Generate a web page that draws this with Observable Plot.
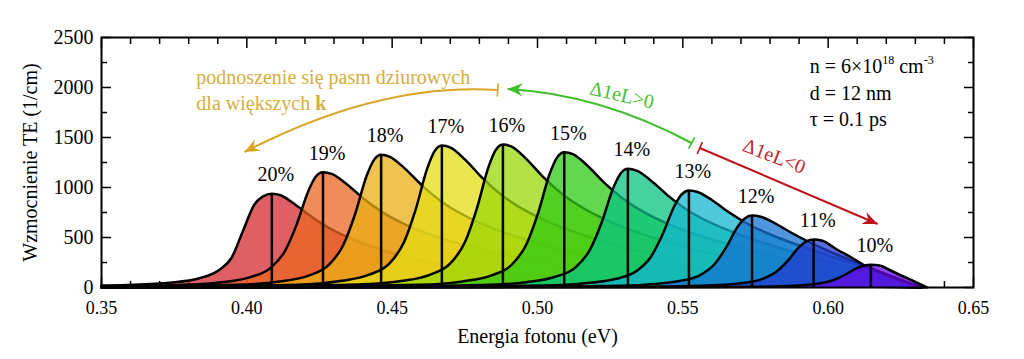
<!DOCTYPE html>
<html>
<head>
<meta charset="utf-8">
<script src="https://cdn.jsdelivr.net/npm/d3@7"></script>
<script src="https://cdn.jsdelivr.net/npm/@observablehq/plot@0.6"></script>
<style>
  html, body { margin: 0; padding: 0; background: #fff; }
  svg { display: block; }
</style>
</head>
<body>
<div id="chart"></div>
<script>
// ---- data: gain spectra [photon energy (eV), TE gain (1/cm)] ----
const g20 = [[0.35,20],[0.3586,26],[0.3736,48],[0.3836,92],[0.3906,178],[0.3946,290],[0.3986,560],[0.4026,830],[0.4056,912],[0.4086,937],[0.4116,922],[0.4166,830],[0.4226,700],[0.4286,590],[0.4366,480],[0.4466,375],[0.4586,280],[0.4736,200],[0.4886,145],[0.5086,100],[0.5386,60],[0.5686,33],[0.5986,14],[0.632,0]];
const g19 = [[0.35,12],[0.3762,24],[0.3912,52],[0.4012,104],[0.4082,196],[0.4132,369],[0.4172,634],[0.4212,968],[0.4237,1107],[0.4262,1153],[0.4292,1136],[0.4342,1038],[0.4402,888],[0.4462,761],[0.4542,634],[0.4642,519],[0.4762,415],[0.4912,311],[0.5062,231],[0.5262,150],[0.5562,81],[0.5862,40],[0.6162,12],[0.632,0]];
const g18 = [[0.35,9],[0.3962,27],[0.4112,60],[0.4212,119],[0.4282,226],[0.4332,425],[0.4372,730],[0.4412,1115],[0.4437,1274],[0.4462,1327],[0.4492,1307],[0.4542,1194],[0.4602,1022],[0.4662,876],[0.4742,730],[0.4842,597],[0.4962,478],[0.5112,358],[0.5262,265],[0.5462,173],[0.5762,93],[0.6062,42],[0.632,0]];
const g17 = [[0.35,7],[0.4171,28],[0.4321,64],[0.4421,128],[0.4491,241],[0.4541,454],[0.4581,781],[0.4621,1193],[0.4646,1363],[0.4671,1420],[0.4701,1399],[0.4751,1278],[0.4811,1093],[0.4871,937],[0.4951,781],[0.5051,639],[0.5171,511],[0.5321,383],[0.5471,284],[0.5671,185],[0.5971,92],[0.618,38],[0.632,0]];
const g16 = [[0.35,5],[0.3881,11],[0.4381,29],[0.4531,64],[0.4631,129],[0.4701,243],[0.4751,458],[0.4791,787],[0.4831,1201],[0.4856,1373],[0.4881,1430],[0.4911,1409],[0.4961,1287],[0.5021,1101],[0.5081,944],[0.5161,787],[0.5261,644],[0.5381,515],[0.5531,386],[0.5681,286],[0.5881,186],[0.61,95],[0.632,0]];
const g15 = [[0.35,4],[0.4092,9],[0.4592,27],[0.4742,61],[0.4842,122],[0.4912,230],[0.4962,433],[0.5002,744],[0.5042,1137],[0.5067,1299],[0.5092,1353],[0.5122,1333],[0.5172,1218],[0.5232,1042],[0.5292,893],[0.5372,744],[0.5472,609],[0.5592,487],[0.5742,365],[0.5892,260],[0.6092,140],[0.632,0]];
const g14 = [[0.35,3],[0.4311,7],[0.4811,24],[0.4961,53],[0.5061,107],[0.5131,202],[0.5181,380],[0.5221,653],[0.5261,997],[0.5286,1140],[0.5311,1187],[0.5341,1169],[0.5391,1068],[0.5451,914],[0.5511,783],[0.5591,653],[0.5691,534],[0.5811,415],[0.5961,290],[0.6111,170],[0.632,0]];
const g13 = [[0.35,2],[0.4521,6],[0.5021,19],[0.5171,44],[0.5271,87],[0.5341,165],[0.5391,310],[0.5431,534],[0.5471,815],[0.5496,931],[0.5521,970],[0.5551,955],[0.5601,873],[0.5661,747],[0.5721,640],[0.5801,530],[0.5901,420],[0.6021,300],[0.6171,160],[0.632,0]];
const g12 = [[0.35,2],[0.4738,5],[0.5238,14],[0.5388,32],[0.5488,65],[0.5558,122],[0.5608,230],[0.5648,396],[0.5688,605],[0.5713,691],[0.5738,720],[0.5768,708],[0.5818,640],[0.5878,540],[0.5938,450],[0.6018,345],[0.6118,225],[0.6218,110],[0.632,0]];
const g11 = [[0.35,1],[0.495,4],[0.545,10],[0.56,22],[0.57,43],[0.577,82],[0.582,154],[0.586,264],[0.590,403],[0.5925,461],[0.595,480],[0.598,468],[0.603,380],[0.608,300],[0.612,230],[0.618,150],[0.624,80],[0.6305,20],[0.633,0]];
const g10 = [[0.35,0.5],[0.5147,2],[0.5647,5],[0.5797,10],[0.5897,20],[0.5967,39],[0.6017,73],[0.6057,125],[0.6097,191],[0.6122,218],[0.6147,227],[0.6177,220],[0.6215,170],[0.6255,115],[0.6293,65],[0.634,0]];

const seriesLabels = ["20%","19%","18%","17%","16%","15%","14%","13%","12%","11%","10%"];
const seriesData = [g20,g19,g18,g17,g16,g15,g14,g13,g12,g11,g10];

// tick values
const xMajor = [0.35,0.40,0.45,0.50,0.55,0.60,0.65];
const xMinor = [0.36,0.37,0.38,0.39,0.41,0.42,0.43,0.44,0.46,0.47,0.48,0.49,0.51,0.52,0.53,0.54,0.56,0.57,0.58,0.59,0.61,0.62,0.63,0.64];
const yMajor = [0,500,1000,1500,2000,2500];
const yMinor = [250,750,1250,1750,2250];

// styles
const palette = ["#D32A30","#EB6623","#EBAF16","#E4DE16","#9BD708","#30CA16","#08C380","#16B6D0","#1673D0","#233ED0","#6608E4"];
const FONT = "'Liberation Serif', 'Times New Roman', serif";

const series = seriesLabels.map((label, i) => ({label, points: seriesData[i].map(([x, y]) => ({x, y}))}));
const peaks = series.map(s => {
  const p = s.points.reduce((a, b) => (b.y > a.y ? b : a));
  return {x: p.x, y: p.y, label: s.label};
});

const marks = [];
// inward ticks (under the fills)
const tickOpts = {stroke: "black", strokeWidth: 1.5, fill: "none", label: null};
marks.push(
  Plot.axisX(xMajor, {...tickOpts, anchor: "bottom", tickSize: -10}),
  Plot.axisX(xMinor, {...tickOpts, anchor: "bottom", tickSize: -6}),
  Plot.axisX(xMajor, {...tickOpts, anchor: "top", tickSize: -10}),
  Plot.axisX(xMinor, {...tickOpts, anchor: "top", tickSize: -6}),
  Plot.axisY(yMajor, {...tickOpts, anchor: "left", tickSize: -10}),
  Plot.axisY(yMinor, {...tickOpts, anchor: "left", tickSize: -6}),
  Plot.axisY(yMajor, {...tickOpts, anchor: "right", tickSize: -10}),
  Plot.axisY(yMinor, {...tickOpts, anchor: "right", tickSize: -6})
);
series.forEach((s, i) => {
  marks.push(Plot.areaY(s.points, {x: "x", y: "y", fill: palette[i], fillOpacity: 0.75, curve: "monotone-x"}));
  marks.push(Plot.lineY(s.points, {x: "x", y: "y", stroke: "black", strokeWidth: 2.5, curve: "monotone-x"}));
});
marks.push(
  Plot.ruleX(peaks, {x: "x", y1: 0, y2: "y", stroke: "black", strokeWidth: 2.5}),
  Plot.text(peaks, {x: "x", y: "y", text: "label", dx: 4, dy: -19, fontSize: 20, fill: "black"}),
  Plot.frame({stroke: "black", strokeWidth: 2}),
  Plot.axisX(xMajor, {anchor: "bottom", tickSize: 0, tickPadding: 14, tickFormat: d3.format(".2f"), fontSize: 18, label: null, fill: "black"}),
  Plot.axisY(yMajor, {anchor: "left", tickSize: 0, tickPadding: 8, tickFormat: d3.format("d"), fontSize: 20, label: null, fill: "black"}),
  Plot.text(["Energia fotonu (eV)"], {text: d => d, frameAnchor: "bottom", dy: 55, fontSize: 20, fill: "black"}),
  Plot.text(["Wzmocnienie TE (1/cm)"], {text: d => d, frameAnchor: "left", textAnchor: "middle", dx: -71, rotate: -90, fontSize: 20, fill: "black"})
);

const chart = Plot.plot({
  width: 1024,
  height: 359,
  marginLeft: 101,
  marginRight: 51,
  marginTop: 37,
  marginBottom: 72,
  x: {domain: [0.35, 0.65]},
  y: {domain: [0, 2500]},
  style: {fontFamily: FONT, fontSize: "18px", background: "white", color: "black"},
  marks
});
document.getElementById("chart").appendChild(chart);

// ---- annotations (placed through the plot's scales) ----
const sx = chart.scale("x"), sy = chart.scale("y");
const X = v => sx.apply(v), Y = v => sy.apply(v);
const svg = d3.select(chart);
const defs = svg.append("defs");
function markers(id, color) {
  defs.append("marker").attr("id", id + "-head").attr("viewBox", "-15 -8 16 16")
    .attr("refX", 0).attr("refY", 0).attr("markerWidth", 16).attr("markerHeight", 16)
    .attr("markerUnits", "userSpaceOnUse").attr("orient", "auto")
    .append("path").attr("d", "M0,0L-15,-6.5L-10,0L-15,6.5Z").attr("fill", color);
  defs.append("marker").attr("id", id + "-bar").attr("viewBox", "-3 -8 6 16")
    .attr("refX", 0).attr("refY", 0).attr("markerWidth", 6).attr("markerHeight", 16)
    .attr("markerUnits", "userSpaceOnUse").attr("orient", "auto")
    .append("path").attr("d", "M0,-6.5V6.5").attr("stroke", color).attr("stroke-width", 1.6);
}
const cYellow = "#D9A526", cGreen = "#3DBE2A", cRed = "#BE1419";
markers("y", cYellow); markers("g", cGreen); markers("r", cRed);

function arrow(id, color, p0, c, p1) {
  const d = c
    ? `M${X(p0[0])},${Y(p0[1])}Q${X(c[0])},${Y(c[1])} ${X(p1[0])},${Y(p1[1])}`
    : `M${X(p0[0])},${Y(p0[1])}L${X(p1[0])},${Y(p1[1])}`;
  svg.append("path").attr("d", d).attr("fill", "none").attr("stroke", color).attr("stroke-width", 2)
    .attr("marker-start", `url(#${id}-bar)`).attr("marker-end", `url(#${id}-head)`);
}
arrow("y", cYellow, [0.4865, 1970], [0.4459, 2050], [0.3994, 1350]);
arrow("g", cGreen, [0.5532, 1440], [0.5216, 1930], [0.4899, 1980]);
arrow("r", cRed, [0.556, 1390], null, [0.6172, 630]);

const txt = (x, y, color) => svg.append("text").attr("x", X(x)).attr("y", Y(y))
  .attr("text-anchor", "start")
  .attr("fill", color).attr("font-family", FONT).attr("font-size", 20);

txt(0.3828, 2030, "#D6AE3C").text("podnoszenie się pasm dziurowych");
const l2 = txt(0.3828, 1770, "#D6AE3C");
l2.append("tspan").text("dla większych ");
l2.append("tspan").attr("font-weight", "bold").text("k");

function rotated(x, y, angle, color, s) {
  svg.append("text").attr("transform", `translate(${X(x)},${Y(y)}) rotate(${angle})`)
    .attr("text-anchor", "middle").attr("dominant-baseline", "middle")
    .attr("fill", color).attr("font-family", FONT).attr("font-size", 20).text(s);
}
rotated(0.5291, 1900, 13, "#45C232", "Δ1eL>0");
rotated(0.5814, 1290, 21, "#C0282A", "Δ1eL<0");

const n = txt(0.5938, 2140, "black");
n.append("tspan").text("n = 6×10");
n.append("tspan").attr("dy", -9).attr("font-size", 12).text("18");
n.append("tspan").attr("dy", 9).text(" cm");
n.append("tspan").attr("dy", -9).attr("font-size", 12).text("-3");
txt(0.5938, 1870, "black").text("d = 12 nm");
txt(0.5938, 1610, "black").text("τ = 0.1 ps");
</script>
</body>
</html>
